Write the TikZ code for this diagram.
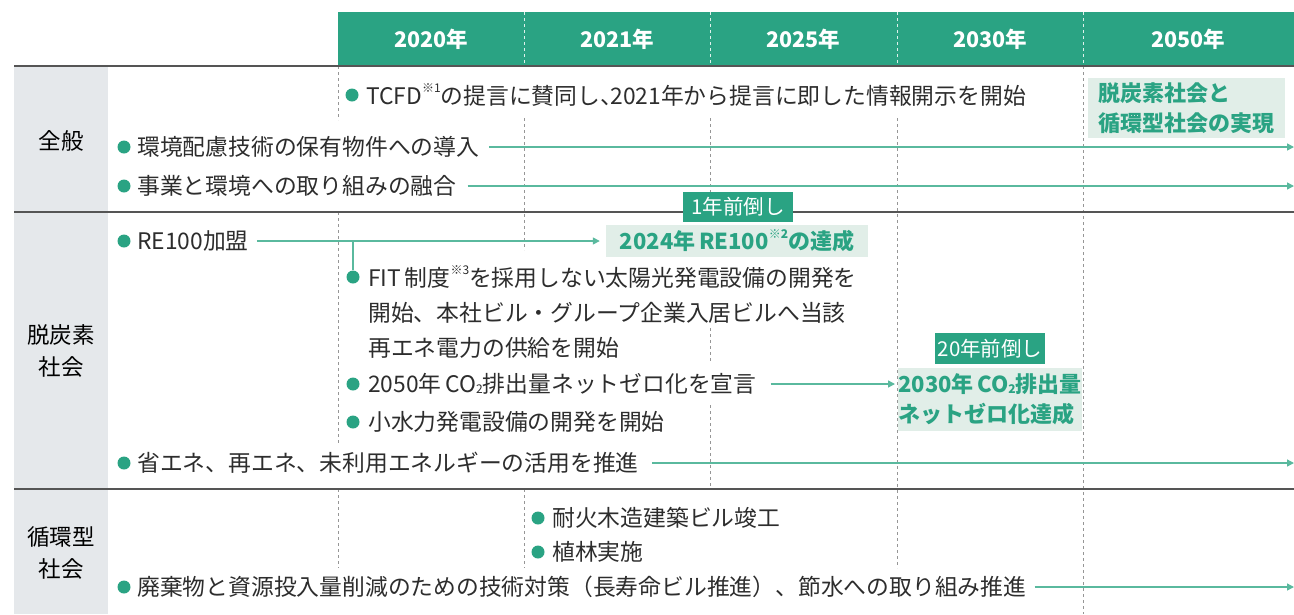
\documentclass[tikz,border=0pt]{standalone}
\usepackage{fontspec}
\setmainfont{Noto Sans CJK JP}
\usetikzlibrary{arrows.meta}
\definecolor{tgreen}{RGB}{42,163,131}
\definecolor{agreen}{RGB}{90,185,158}
\definecolor{lbox}{RGB}{225,238,232}
\definecolor{lgray}{RGB}{229,232,235}
\definecolor{sepc}{RGB}{85,85,85}
\definecolor{dashc}{RGB}{150,150,150}
\definecolor{txtc}{RGB}{45,45,45}
\newcommand\mysup[1]{\raisebox{0.5em}{\fontsize{12}{12}\selectfont #1}}
\newcommand\mysub[1]{\raisebox{-0.02em}{\fontsize{12}{12}\selectfont #1}}
\newcommand\narrowcomma{\makebox[0.45em][l]{、}}
\begin{document}
\begin{tikzpicture}[x=1pt,y=-1pt,
 txt/.style={anchor=west,inner sep=0pt,text=txtc,font=\fontsize{22.8}{35}\selectfont},
 dot/.style={circle,fill=tgreen,minimum size=13pt,inner sep=0pt},
 arr/.style={draw=agreen,line width=1.4pt,-{Triangle[length=7pt,width=7pt]}},
 conn/.style={draw=agreen,line width=1.4pt},
 sepline/.style={draw=sepc,line width=1.5pt},
 gridline/.style={draw=dashc,line width=1pt,dash pattern=on 3pt off 3pt},
 hgridline/.style={draw=white!85!tgreen,line width=0.9pt,dash pattern=on 3pt off 3pt},
 year/.style={text=white,font=\bfseries\fontsize{21.5}{22}\selectfont,inner sep=0pt},
 goal/.style={fill=lbox,text=tgreen,font=\bfseries\fontsize{22}{30}\selectfont,inner sep=0pt,align=left},
 tagbox/.style={fill=tgreen,text=white,font=\fontsize{20.5}{22}\selectfont,inner sep=0pt},
 rowlab/.style={text=black,font=\fontsize{22.5}{32}\selectfont,align=center,inner sep=0pt},
]
\useasboundingbox (0,0) rectangle (1294,614);
\coordinate (R) at (1294,0);
% left label column
\fill[lgray] (14,66) rectangle (108,614);
% dashed grid
\draw[gridline] (338,66) -- (338,120);
\draw[gridline] (338,212) -- (338,443);
\draw[gridline] (338,489) -- (338,568);
\draw[gridline] (524,118) -- (524,250);
\draw[gridline] (524,489) -- (524,568);
\draw[gridline] (710,118) -- (710,192);
\draw[gridline] (710,328) -- (710,362);
\draw[gridline] (710,405) -- (710,489);
\draw[gridline] (897,118) -- (897,568);
\draw[gridline] (1083,66) -- (1083,614);
% separators
\draw[sepline] (14,66) -- (1294,66);
\draw[sepline] (14,212) -- (1294,212);
\draw[sepline] (14,489) -- (1294,489);
% header
\fill[tgreen] (338,12) rectangle (1294,65);
\foreach \xx in {524,710,897,1083} \draw[hgridline] (\xx,12) -- (\xx,65);
\node[year] (y1) at (431,39) {2020年};
\node[year] (y2) at (617,39) {2021年};
\node[year] (y3) at (803.5,39) {2025年};
\node[year] (y4) at (990,39) {2030年};
\node[year] (y5) at (1188,39) {2050年};
% row labels
\node[rowlab] (lab1) at (61,141) {全般};
\node[rowlab] (lab2) at (61,351) {脱炭素\\社会};
\node[rowlab] (lab3) at (61,553) {循環型\\社会};
% row 1
\node[dot] (d1) at (352,95) {};
\node[txt] (t1) at (366,95) {TCFD\mysup{※1}の提言に賛同し\narrowcomma 2021年から提言に即した情報開示を開始};
\node[dot] (d2) at (124,147) {};
\node[txt] (t2) at (137,147) {環境配慮技術の保有物件への導入};
\node[dot] (d3) at (124,186) {};
\node[txt] (t3) at (137,186) {事業と環境への取り組みの融合};
\node[goal,minimum width=197pt,minimum height=60pt] (g1) at (1186.5,108) {脱炭素社会と\\循環型社会の実現};
% row 2
\node[tagbox,minimum width=110pt,minimum height=30pt] (tag1) at (738,207) {1年前倒し};
\node[dot] (d4) at (124,241) {};
\node[txt] (t4) at (137,241) {RE100加盟};
\node[goal,minimum width=262pt,minimum height=32pt] (g2) at (737,241) {2024年\,RE100\mysup{※2}の達成};
\node[dot] (d5) at (353,277) {};
\node[txt,align=left] (t5) at (368,312) {FIT\,制度\mysup{※3}を採用しない太陽光発電設備の開発を\\開始、本社ビル・グループ企業入居ビルへ当該\\再エネ電力の供給を開始};
\node[dot] (d6) at (353,384) {};
\node[txt] (t6) at (368,384) {2050年\,CO\mysub{2}排出量ネットゼロ化を宣言};
\node[tagbox,minimum width=110pt,minimum height=31pt] (tag2) at (990,348.5) {20年前倒し};
\node[goal,minimum width=180pt,minimum height=63pt] (g3) at (990,399.5) {2030年\,CO\mysub{2}排出量\\ネットゼロ化達成};
\node[dot] (d7) at (353,422) {};
\node[txt] (t7) at (368,422) {小水力発電設備の開発を開始};
\node[dot] (d8) at (124,463) {};
\node[txt] (t8) at (137,463) {省エネ、再エネ、未利用エネルギーの活用を推進};
% row 3
\node[dot] (d9) at (538,518) {};
\node[txt] (t9) at (552,518) {耐火木造建築ビル竣工};
\node[dot] (d10) at (538,552) {};
\node[txt] (t10) at (552,552) {植林実施};
\node[dot] (d11) at (124,587) {};
\node[txt] (t11) at (137,587) {廃棄物と資源投入量削減のための技術対策（長寿命ビル推進）、節水への取り組み推進};
% connectors
\draw[arr] ([xshift=10pt]t2.east) -- (t2.east -| R);
\draw[arr] ([xshift=11pt]t3.east) -- (t3.east -| R);
\draw[arr,shorten >=6pt] ([xshift=8pt]t4.east) -- (g2.west);
\draw[conn] (d5.north |- t4.east) -- (d5.north);
\draw[arr,shorten >=3pt] ([xshift=14pt]t6.east) -- (t6.east -| g3.west);
\draw[arr] ([xshift=13pt]t8.east) -- (t8.east -| R);
\draw[arr] ([xshift=8pt]t11.east) -- (t11.east -| R);
\end{tikzpicture}
\end{document}
